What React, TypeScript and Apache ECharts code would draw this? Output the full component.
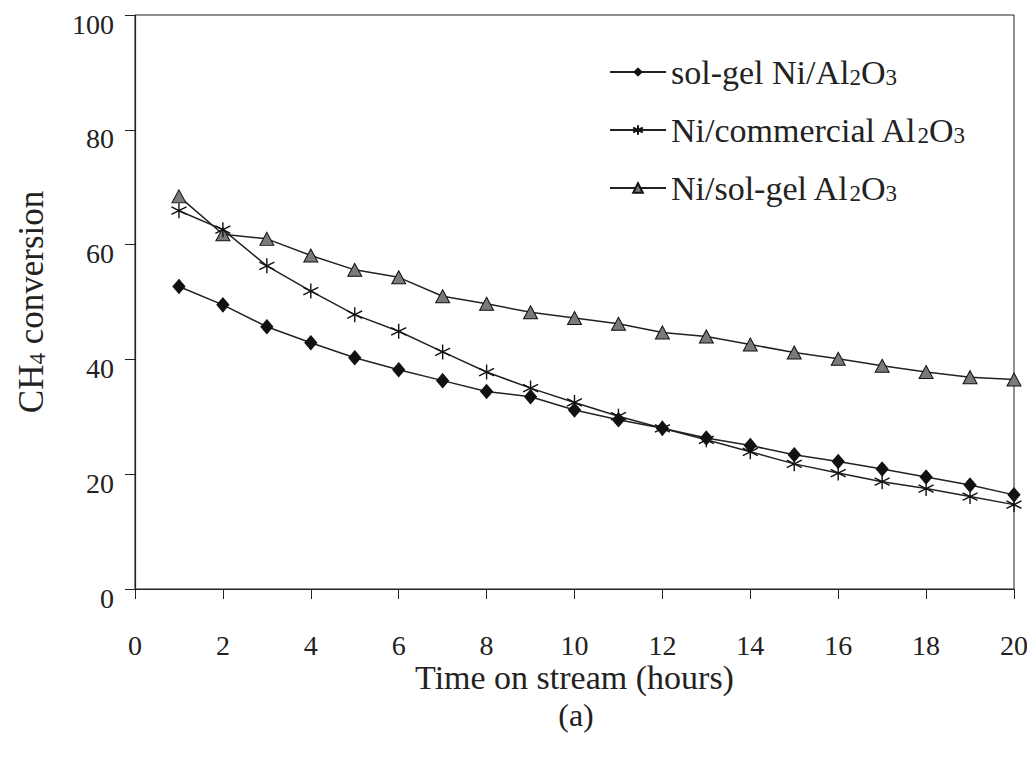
import React, { useEffect, useRef } from "react";
import * as echarts from "echarts";

const hours = [1, 2, 3, 4, 5, 6, 7, 8, 9, 10, 11, 12, 13, 14, 15, 16, 17, 18, 19, 20];
const solGelNi = [52.7, 49.5, 45.7, 42.9, 40.3, 38.2, 36.3, 34.4, 33.5, 31.2, 29.5, 28.0, 26.3, 25.0, 23.4, 22.2, 20.9, 19.5, 18.1, 16.4];
const niCommercial = [65.9, 62.6, 56.3, 51.9, 47.8, 44.9, 41.3, 37.8, 35.0, 32.5, 30.1, 28.0, 26.0, 23.9, 21.8, 20.2, 18.7, 17.5, 16.1, 14.7];
const niSolGel = [68.4, 61.8, 61.0, 58.1, 55.6, 54.3, 51.0, 49.7, 48.2, 47.2, 46.2, 44.7, 44.0, 42.6, 41.2, 40.1, 38.9, 37.8, 36.9, 36.5];
const seriesNames = ["sol-gel Ni/Al2O3", "Ni/commercial Al2O3", "Ni/sol-gel Al2O3"];
const legendLabels: Record<string, string> = {
  "sol-gel Ni/Al2O3": "sol-gel Ni/Al{sub|2}O{sub|3}",
  "Ni/commercial Al2O3": "Ni/commercial Al{sub|2}O{sub|3}",
  "Ni/sol-gel Al2O3": "Ni/sol-gel Al{sub|2}O{sub|3}",
};

const FONT = "'Liberation Serif', 'Times New Roman', serif";
const INK = "#222";
const asterisk = "path://M5,0L5,10M0.7,2.5L9.3,7.5M0.7,7.5L9.3,2.5";

export default function App() {
  const ref = useRef<HTMLDivElement>(null);
  useEffect(() => {
    if (!ref.current) return;
    const chart = echarts.init(ref.current, undefined, { renderer: "svg" });
    const pair = (vals: number[]) => hours.map((h, i) => [h, vals[i]]);
    chart.setOption({
      animation: false,
      backgroundColor: "#fff",
      grid: {
        left: 135,
        right: 21,
        top: 15,
        bottom: 171,
        show: true,
        borderColor: INK,
        borderWidth: 1,
      },
      legend: {
        orient: "vertical",
        left: 604,
        top: 47,
        itemWidth: 56,
        itemHeight: 12,
        itemGap: 18,
        data: seriesNames,
        formatter: (name: string) => legendLabels[name],
        textStyle: {
          fontFamily: FONT,
          fontSize: 34,
          color: INK,
          lineHeight: 40,
          rich: {
            sub: { fontSize: 23, fontFamily: FONT, color: INK, padding: [11, 0, 0, 0] },
          },
        },
      },
      xAxis: {
        type: "value",
        min: 0,
        max: 20,
        interval: 2,
        name: "Time on stream (hours)",
        nameLocation: "middle",
        nameGap: 71,
        nameMoveOverlap: false,
        nameTextStyle: { fontFamily: FONT, fontSize: 34, color: INK },
        axisLine: { show: true, lineStyle: { color: INK, width: 1.2 } },
        axisTick: { show: true, inside: false, length: 10, lineStyle: { color: INK } },
        axisLabel: { margin: 42, fontFamily: FONT, fontSize: 28, color: INK },
        splitLine: { show: false },
      },
      yAxis: {
        type: "value",
        min: 0,
        max: 100,
        interval: 20,
        name: "CH{sub|4} conversion",
        nameLocation: "middle",
        nameGap: 86,
        nameMoveOverlap: false,
        nameRotate: 90,
        nameTextStyle: {
          fontFamily: FONT,
          fontSize: 35,
          color: INK,
          rich: {
            sub: { fontSize: 23, fontFamily: FONT, color: INK, padding: [12, 0, 0, 0] },
          },
        },
        axisLine: { show: true, lineStyle: { color: INK, width: 1.2 } },
        axisTick: { show: true, inside: false, length: 10, lineStyle: { color: INK } },
        axisLabel: {
          margin: 21,
          fontFamily: FONT,
          fontSize: 28,
          color: INK,
          formatter: (v: number) => `{v|${v}}`,
          rich: {
            v: { fontFamily: FONT, fontSize: 28, color: INK, padding: [18, 0, 0, 0] },
          },
        },
        splitLine: { show: false },
      },
      graphic: [
        {
          type: "text",
          x: 576,
          y: 715,
          style: {
            text: "(a)",
            font: `32px ${FONT}`,
            fill: INK,
            align: "center",
            verticalAlign: "middle",
          },
        },
      ],
      series: [
        {
          name: seriesNames[0],
          type: "line",
          data: pair(solGelNi),
          symbol: "diamond",
          symbolSize: [12, 14],
          lineStyle: { color: INK, width: 1.5 },
          itemStyle: { color: "#111", borderColor: "#111" },
          z: 3,
        },
        {
          name: seriesNames[1],
          type: "line",
          data: pair(niCommercial),
          symbol: asterisk,
          symbolSize: 15,
          lineStyle: { color: INK, width: 1.5 },
          itemStyle: { color: "none", borderColor: "#111", borderWidth: 1.4 },
          z: 2,
        },
        {
          name: seriesNames[2],
          type: "line",
          data: pair(niSolGel),
          symbol: "triangle",
          symbolSize: [14, 13],
          lineStyle: { color: INK, width: 1.5 },
          itemStyle: { color: "#7a7a7a", borderColor: "#111", borderWidth: 1 },
          z: 1,
        },
      ],
    });
    return () => chart.dispose();
  }, []);
  return <div ref={ref} style={{ width: 1035, height: 760, margin: -8 }} />;
}
